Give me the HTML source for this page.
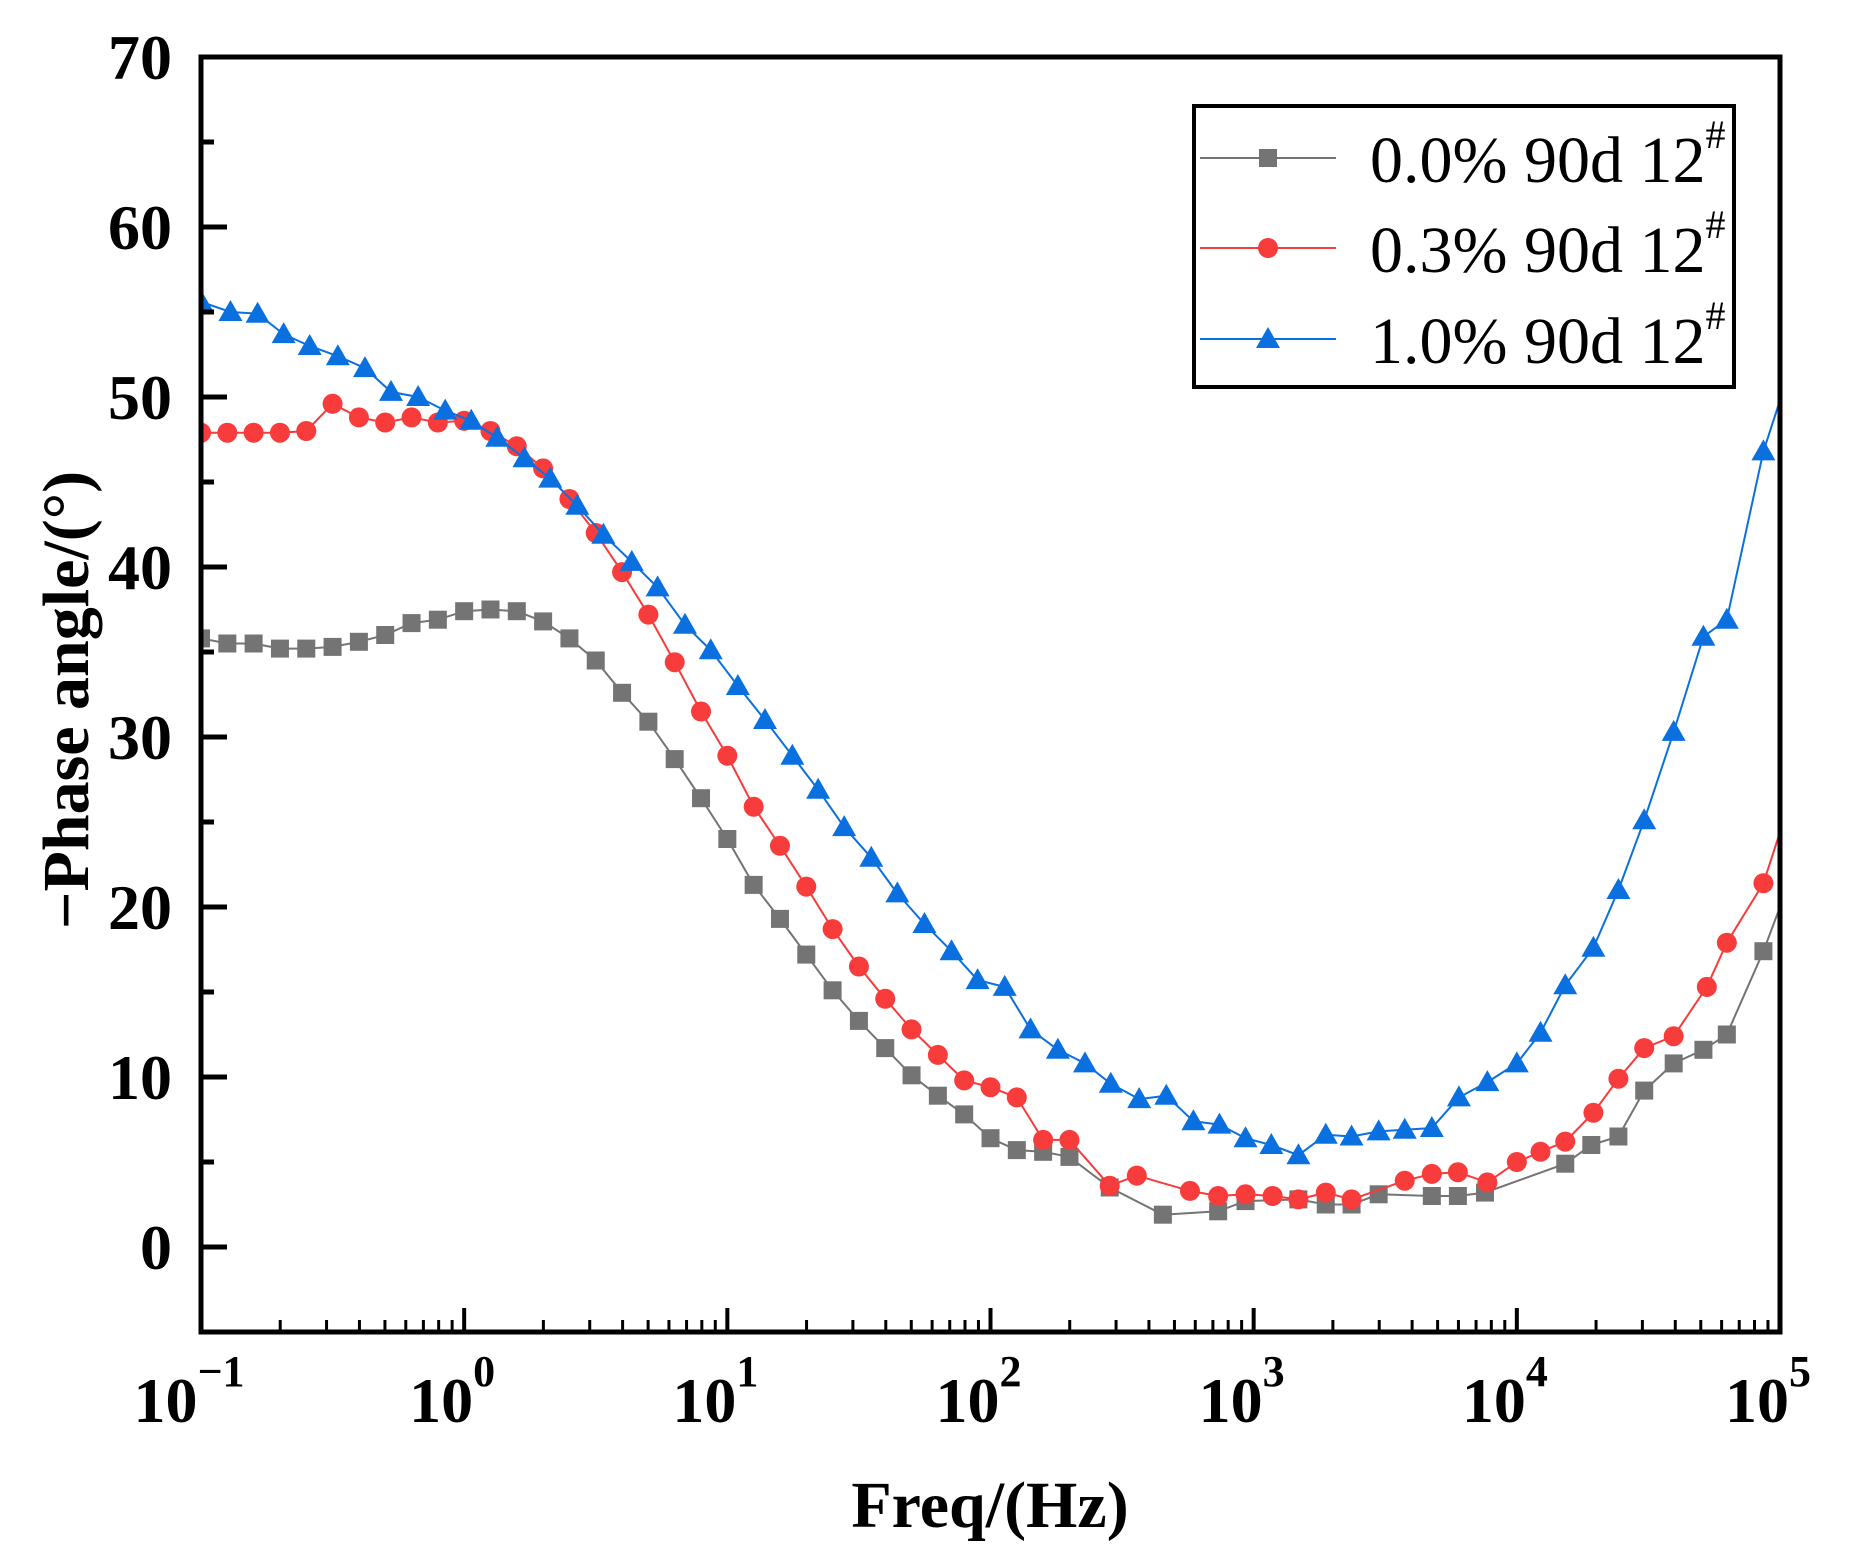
<!DOCTYPE html>
<html><head><meta charset="utf-8"><style>
html,body{margin:0;padding:0;background:#fff;}
svg{display:block;}
text{font-family:"Liberation Serif",serif;}
</style></head><body>
<svg id="chart" width="1851" height="1563" viewBox="0 0 1851 1563">
<defs><clipPath id="plotClip"><rect x="201" y="57" width="1579" height="1275"/></clipPath></defs>
<g id="plot" clip-path="url(#plotClip)"></g>
<g id="axes"></g>
<g id="legend">
<rect x="1194" y="106" width="540" height="281" fill="#fff" stroke="#000" stroke-width="4"/>
</g>
</svg>
<script>
// ---- data ----
const grayLogFreq = [-1,-0.9,-0.8,-0.7,-0.6,-0.5,-0.4,-0.3,-0.2,-0.1,0,0.1,0.2,0.3,0.4,0.5,0.6,0.7,0.8,0.9,1,1.1,1.2,1.3,1.4,1.5,1.6,1.7,1.8,1.9,2,2.1,2.2,2.3,2.453,2.655,2.865,2.969,3.17,3.274,3.372,3.475,3.677,3.776,3.879,4.184,4.283,4.386,4.484,4.596,4.709,4.798,4.937,5.0];
const grayPhase = [35.8,35.5,35.5,35.2,35.2,35.3,35.6,36.0,36.7,36.9,37.4,37.5,37.4,36.8,35.8,34.5,32.6,30.9,28.7,26.4,24.0,21.3,19.3,17.2,15.1,13.3,11.7,10.1,8.9,7.8,6.4,5.7,5.6,5.3,3.5,1.9,2.1,2.7,2.8,2.5,2.5,3.1,3.0,3.0,3.2,4.9,6.0,6.5,9.2,10.8,11.6,12.5,17.4,20.0];
const redLogFreq = [-1,-0.9,-0.8,-0.7,-0.6,-0.5,-0.4,-0.3,-0.2,-0.1,0,0.1,0.2,0.3,0.4,0.5,0.6,0.7,0.8,0.9,1,1.1,1.2,1.3,1.4,1.5,1.6,1.7,1.8,1.9,2,2.1,2.2,2.3,2.453,2.556,2.758,2.865,2.969,3.072,3.17,3.274,3.372,3.574,3.677,3.776,3.888,4.0,4.09,4.184,4.291,4.386,4.484,4.596,4.722,4.798,4.937,5.0];
const redPhase = [47.9,47.9,47.9,47.9,48.0,49.6,48.8,48.5,48.8,48.5,48.6,48.0,47.1,45.8,44.0,42.0,39.7,37.2,34.4,31.5,28.9,25.9,23.6,21.2,18.7,16.5,14.6,12.8,11.3,9.8,9.4,8.8,6.3,6.3,3.6,4.2,3.3,3.0,3.1,3.0,2.8,3.2,2.8,3.9,4.3,4.4,3.8,5.0,5.6,6.2,7.9,9.9,11.7,12.4,15.3,17.9,21.4,24.4];
const blueLogFreq = [-1,-0.888,-0.785,-0.686,-0.587,-0.48,-0.377,-0.278,-0.175,-0.072,0.027,0.126,0.229,0.327,0.43,0.529,0.637,0.735,0.839,0.937,1.04,1.143,1.247,1.345,1.444,1.547,1.646,1.749,1.852,1.951,2.054,2.152,2.256,2.359,2.457,2.565,2.668,2.771,2.87,2.969,3.067,3.17,3.274,3.372,3.475,3.574,3.677,3.78,3.888,4.0,4.09,4.184,4.291,4.386,4.484,4.596,4.709,4.798,4.937,5.0];
const bluePhase = [55.6,55.0,54.9,53.7,53.0,52.4,51.7,50.3,50.0,49.2,48.6,47.6,46.4,45.2,43.6,41.9,40.3,38.8,36.6,35.1,33.0,31.0,28.9,26.9,24.7,22.9,20.8,19.0,17.4,15.7,15.3,12.8,11.6,10.8,9.6,8.7,8.9,7.4,7.2,6.4,6.0,5.4,6.6,6.5,6.8,6.9,7.0,8.8,9.7,10.8,12.6,15.4,17.6,21.0,25.1,30.3,35.9,36.9,46.8,49.8];
const yTicks = [0,10,20,30,40,50,60,70];
const xDecades = [-1,0,1,2,3,4,5];
const legendLabels = ["0.0% 90d 12","0.3% 90d 12","1.0% 90d 12"];

// ---- axes functions ----
const X0=201, X1=1780, Y0=1332, Y1=57, LMIN=-1, LMAX=5, VMIN=-5, VMAX=70;
const xs = lf => X0 + (lf-LMIN)/(LMAX-LMIN)*(X1-X0);
const ys = v => Y0 - (v-VMIN)/(VMAX-VMIN)*(Y0-Y1);
const NS='http://www.w3.org/2000/svg';
function mk(tag, attrs, parent){const e=document.createElementNS(NS,tag);for(const k in attrs)e.setAttribute(k,attrs[k]);parent.appendChild(e);return e;}
const plot=document.getElementById('plot'), axes=document.getElementById('axes'), legend=document.getElementById('legend');

function marker(type,x,y,color,parent){
  let m;
  if(type==='square'){m=mk('rect',{x:x-9,y:y-9,width:18,height:18,fill:color},parent);}
  else if(type==='circle'){m=mk('circle',{cx:x,cy:y,r:10,fill:color},parent);}
  else {m=mk('polygon',{points:`${x},${y-12} ${x+12},${y+9} ${x-12},${y+9}`,fill:color},parent);}
  return m;
}
const series=[
 {lf:grayLogFreq,v:grayPhase,color:'#747474',type:'square',name:'series-0-0pct'},
 {lf:redLogFreq,v:redPhase,color:'#f83b3b',type:'circle',name:'series-0-3pct'},
 {lf:blueLogFreq,v:bluePhase,color:'#0a70e0',type:'triangle',name:'series-1-0pct'}
];
series.forEach(s=>{
  const g=mk('g',{},plot);
  
  
  const pts=s.lf.map((l,i)=>xs(l).toFixed(1)+','+ys(s.v[i]).toFixed(1)).join(' ');
  const pl=mk('polyline',{points:pts,fill:'none',stroke:s.color,'stroke-width':2},g);
  
  
  s.lf.forEach((l,i)=>{
    if(l>=LMAX) return;
    const m=marker(s.type,xs(l),ys(s.v[i]),s.color,g);
    
    
  });
});

// frame
const frame=mk('rect',{x:X0,y:Y1,width:X1-X0,height:Y0-Y1,fill:'none',stroke:'#000','stroke-width':5},axes);


// y ticks
for(let v=-5; v<=70; v+=5){
  const major = yTicks.includes(v);
  const t=mk('line',{x1:X0,x2:X0+(major?26:13),y1:ys(v),y2:ys(v),stroke:'#000','stroke-width':5},axes);
  
  
}
yTicks.forEach(v=>{
  const t=mk('text',{x:172,y:ys(v)+22,'text-anchor':'end','font-size':64,'font-weight':'bold'},axes);
  t.textContent=v;
  
  
});
// x ticks
xDecades.forEach(d=>{
  const t=mk('line',{x1:xs(d),x2:xs(d),y1:Y0,y2:Y0-24,stroke:'#000','stroke-width':4},axes);
  
  
  if(d<LMAX){for(let k=2;k<=9;k++){
    const lx=xs(d+Math.log10(k));
    const mt=mk('line',{x1:lx,x2:lx,y1:Y0,y2:Y0-12,stroke:'#000','stroke-width':3},axes);
    
    
  }}
  const lab=mk('text',{x:xs(d)-12,y:1422,'text-anchor':'middle','font-size':64,'font-weight':'bold'},axes);
  
  
  lab.appendChild(document.createTextNode('10'));
  const sup=mk('tspan',{dy:-36,'font-size':44},lab);
  sup.textContent = d<0 ? '\u2212'+Math.abs(d) : String(d);
});
// axis titles
const xt=mk('text',{x:990,y:1527,'text-anchor':'middle','font-size':66,'font-weight':'bold'},axes);
xt.textContent='Freq/(Hz)';


const yt=mk('text',{x:0,y:0,'text-anchor':'middle','font-size':66,'font-weight':'bold',transform:'translate(88,700) rotate(-90)'},axes);
yt.textContent='\u2212Phase angle/(\u00b0)';



// legend
const rowY=[158,248,339];
series.forEach((s,i)=>{
  const g=mk('g',{},legend);
  
  
  mk('line',{x1:1200,x2:1336,y1:rowY[i],y2:rowY[i],stroke:s.color,'stroke-width':2},g);
  marker(s.type,1268,rowY[i],s.color,g);
  const t=mk('text',{x:1370,y:rowY[i]+24,'font-size':66},g);
  t.appendChild(document.createTextNode(legendLabels[i]));
  const sp=mk('tspan',{dy:-34,'font-size':40},t);
  sp.textContent='#';
});
</script>
</body></html>
